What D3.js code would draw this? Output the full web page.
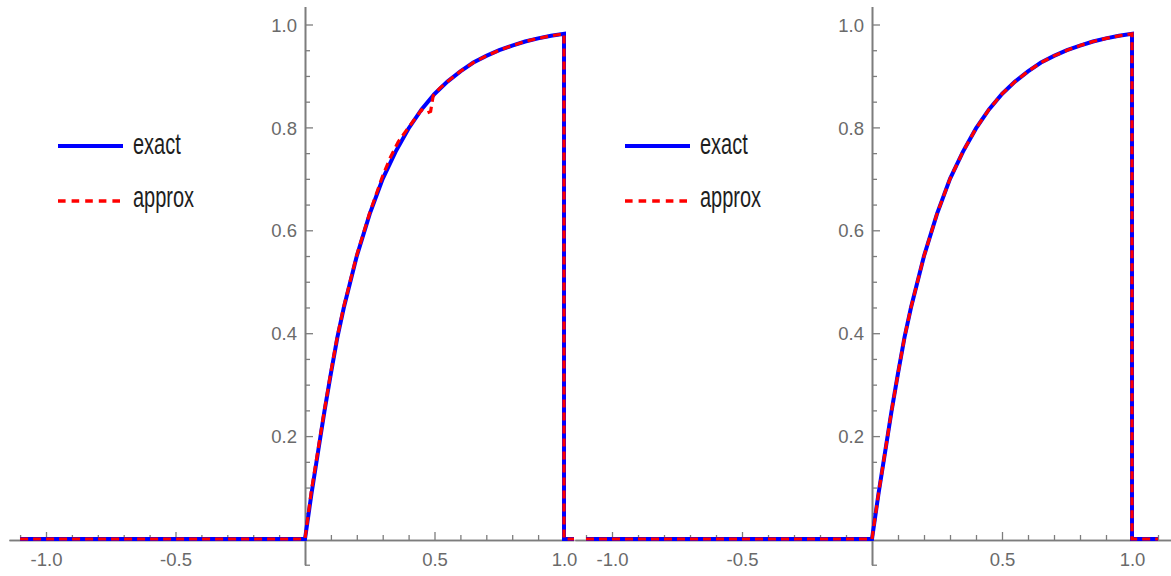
<!DOCTYPE html>
<html>
<head>
<meta charset="utf-8">
<script src="https://cdn.jsdelivr.net/npm/d3@7"></script>
<style>
  html, body { margin: 0; padding: 0; background: #fff; }
  svg { display: block; }
  .tick text { font-family: "Liberation Sans", Arial, sans-serif; }
</style>
</head>
<body>
<svg id="chart" width="1171" height="576"></svg>
<script>
// Vertical plot range shared by both panels
const yAxisDomain = [-0.05, 1.035];

// Tick positions and labels
const xMajorTicks = [-1.0, -0.5, 0.5, 1.0];
const xMajorLabels = ["-1.0", "-0.5", "0.5", "1.0"];
const xMinorTicks = [-1.1, -0.9, -0.8, -0.7, -0.6, -0.4, -0.3, -0.2, -0.1,
                     0.1, 0.2, 0.3, 0.4, 0.6, 0.7, 0.8, 0.9, 1.1];
const yMajorTicks = [0.2, 0.4, 0.6, 0.8, 1.0];
const yMajorLabels = ["0.2", "0.4", "0.6", "0.8", "1.0"];
const yMinorTicks = [-0.05, 0.05, 0.1, 0.15, 0.25, 0.3, 0.35, 0.45, 0.5, 0.55,
                     0.65, 0.7, 0.75, 0.85, 0.9, 0.95];

// Exact solution: zero, rising branch on [0, 1], drop at x = 1, zero again
const exactX = [-1.1, 0, 0.025, 0.05, 0.075, 0.1, 0.125, 0.15, 0.2, 0.25, 0.3, 0.35,
                0.4, 0.45, 0.5, 0.55, 0.6, 0.65, 0.7, 0.75, 0.8, 0.85, 0.9, 0.95, 1.0, 1.0, 1.1];
const exactY = [0, 0, 0.088, 0.168, 0.248, 0.322, 0.392, 0.45, 0.55, 0.632, 0.70, 0.753,
                0.798, 0.835, 0.865, 0.889, 0.909, 0.926, 0.939, 0.950, 0.959, 0.967, 0.973, 0.978, 0.982, 0, 0];

// Approximation, first panel (small wiggles in the middle of the branch)
const approxLeftX = [-1.1, 0, 0.025, 0.05, 0.075, 0.1, 0.125, 0.15, 0.2, 0.25, 0.3, 0.33, 0.36,
                     0.4, 0.45, 0.47, 0.485, 0.495, 0.52, 0.55, 0.6, 0.65, 0.7, 0.75, 0.8, 0.85,
                     0.9, 0.95, 1.0, 1.0, 1.1];
const approxLeftY = [0, 0, 0.095, 0.172, 0.25, 0.325, 0.394, 0.452, 0.552, 0.634, 0.706, 0.742, 0.772,
                     0.80, 0.834, 0.828, 0.831, 0.862, 0.876, 0.889, 0.909, 0.926, 0.939, 0.950, 0.959, 0.967,
                     0.973, 0.978, 0.982, 0, 0];

// Approximation, second panel
const approxRightX = [-1.1, 0, 0.025, 0.05, 0.075, 0.1, 0.125, 0.15, 0.2, 0.25, 0.3, 0.35,
                      0.4, 0.45, 0.5, 0.55, 0.6, 0.65, 0.7, 0.75, 0.8, 0.85, 0.9, 0.95, 1.0, 1.0, 1.1];
const approxRightY = [0, 0, 0.088, 0.168, 0.248, 0.322, 0.392, 0.45, 0.55, 0.632, 0.70, 0.753,
                      0.798, 0.835, 0.865, 0.889, 0.909, 0.926, 0.939, 0.950, 0.959, 0.967, 0.973, 0.978, 0.982, 0, 0];

const seriesNames = ["exact", "approx"];

const svg = d3.select("#chart");
const AXIS = "#7d7d7d";
const LABEL = "#6a6a6a";
const BLUE = "#0000ff";
const RED = "#ff0000";

const y = d3.scaleLinear().domain([0, 1]).range([539, 24.5]);

// Each panel: horizontal extent of its axis, and the pixel span its curves may occupy
const panels = [
  { id: "p1", origin: 305, unit: 259, xExtent: [-1.143, 1.038], clip: [0, 574], legendX: 58,
    approxX: approxLeftX, approxY: approxLeftY },
  { id: "p2", origin: 872, unit: 260, xExtent: [-1.143, 1.15], clip: [575, 1171], legendX: 625,
    approxX: approxRightX, approxY: approxRightY }
];

const zip = (xs, ys) => xs.map((v, i) => [v, ys[i]]);

panels.forEach(p => {
  const x = d3.scaleLinear()
    .domain(p.xExtent)
    .range(p.xExtent.map(d => p.origin + d * p.unit));
  const inX = v => v >= p.xExtent[0] && v <= p.xExtent[1];

  svg.append("clipPath").attr("id", "clip-" + p.id)
    .append("rect")
    .attr("x", p.clip[0]).attr("y", 0)
    .attr("width", p.clip[1] - p.clip[0]).attr("height", 576);

  const g = svg.append("g");

  // x axis: minor ticks, then labelled major ticks (ticks point upward)
  const xAxisY = y(0) + 1;
  const gxMinor = g.append("g").attr("transform", `translate(0,${xAxisY})`)
    .call(d3.axisBottom(x).tickValues(xMinorTicks.filter(inX)).tickSize(-5).tickSizeOuter(0).tickFormat(""));
  const gxMajor = g.append("g").attr("transform", `translate(0,${xAxisY})`)
    .call(d3.axisBottom(x).tickValues(xMajorTicks).tickSize(-8).tickSizeOuter(0).tickPadding(15)
      .tickFormat((d, i) => xMajorLabels[i]));

  // y axis (ticks point right, labels on the left)
  const yAxisScale = d3.scaleLinear().domain(yAxisDomain).range(yAxisDomain.map(d => y(d)));
  const gyMinor = g.append("g").attr("transform", `translate(${x(0)},0)`)
    .call(d3.axisLeft(yAxisScale).tickValues(yMinorTicks).tickSize(-5).tickSizeOuter(0).tickFormat(""));
  const gyMajor = g.append("g").attr("transform", `translate(${x(0)},0)`)
    .call(d3.axisLeft(yAxisScale).tickValues(yMajorTicks).tickSize(-8).tickSizeOuter(0).tickPadding(8)
      .tickFormat((d, i) => yMajorLabels[i]));

  [gxMinor, gxMajor, gyMinor, gyMajor].forEach(a => {
    a.selectAll(".domain").attr("stroke", AXIS).attr("stroke-width", 1.6);
    a.selectAll(".tick line").attr("stroke", AXIS).attr("stroke-width", 1.3);
    a.selectAll(".tick text").attr("fill", LABEL).attr("font-size", 18.5);
  });
  gxMajor.selectAll(".tick text").attr("dy", "0.6em");
  gyMajor.selectAll(".tick text").attr("dy", "0.36em");

  const line = d3.line().x(d => x(d[0])).y(d => y(d[1]));
  const curves = svg.append("g").attr("clip-path", `url(#clip-${p.id})`);

  curves.append("path")
    .datum(zip(exactX, exactY))
    .attr("d", line)
    .attr("fill", "none").attr("stroke", BLUE).attr("stroke-width", 4)
    .attr("stroke-linejoin", "miter");

  curves.append("path")
    .datum(zip(p.approxX, p.approxY))
    .attr("d", line)
    .attr("fill", "none").attr("stroke", RED).attr("stroke-width", 3.2)
    .attr("stroke-dasharray", "8,5");

  // legend
  const lg = svg.append("g");
  const rows = [
    { name: seriesNames[0], ly: 146, base: 154, color: BLUE, width: 4, dash: null, len: 65 },
    { name: seriesNames[1], ly: 201, base: 207, color: RED, width: 3.5, dash: "7.6,6", len: 62 }
  ];
  rows.forEach(r => {
    lg.append("line")
      .attr("x1", p.legendX).attr("x2", p.legendX + r.len)
      .attr("y1", r.ly).attr("y2", r.ly)
      .attr("stroke", r.color).attr("stroke-width", r.width)
      .attr("stroke-dasharray", r.dash);
    lg.append("text")
      .attr("transform", `translate(${p.legendX + 75},${r.base}) scale(1,1.45)`)
      .attr("font-family", "Liberation Sans, Arial, sans-serif")
      .attr("font-size", 20)
      .attr("fill", "#1e1e1e")
      .text(r.name);
  });
});
</script>
</body>
</html>
